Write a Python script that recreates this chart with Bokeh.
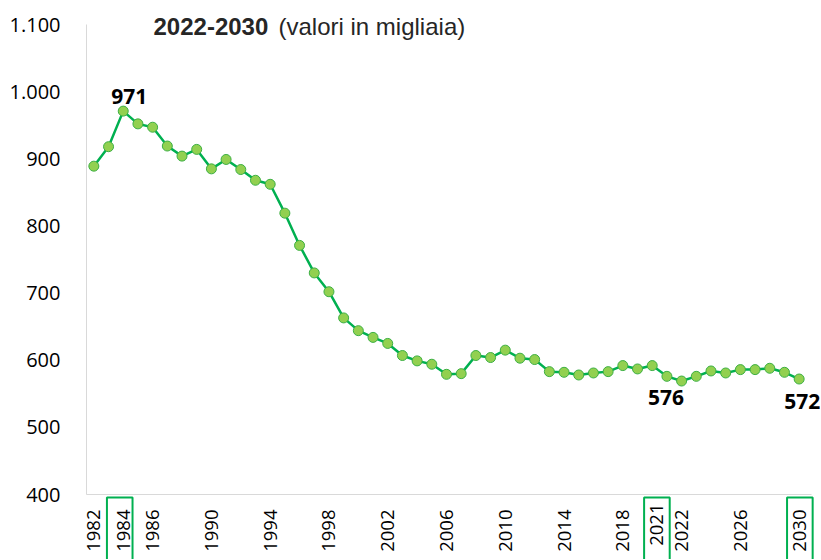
import math
from bokeh.plotting import figure
from bokeh.models import Range1d, FixedTicker, Label, BoxAnnotation
from bokeh.embed import file_html
from bokeh.resources import INLINE

# ---- data ----
years = list(range(1982, 2031))
values = [889, 918, 971, 952, 947, 919, 904, 914, 885, 899,
          884, 868, 862, 819, 771, 730, 702, 663, 644, 634,
          625, 607, 599, 594, 579, 580, 607, 604, 615, 603,
          601, 583, 582, 578, 581, 583, 592, 587, 592, 576,
          569, 576, 584, 581, 586, 586, 588, 582, 572]
x_tick_years = [1982, 1984, 1986, 1990, 1994, 1998, 2002, 2006, 2010,
                2014, 2018, 2021, 2022, 2026, 2030]
highlight_years = [1984, 2021, 2030]
label_years = [1984, 2021, 2030]
y_ticks = [400, 500, 600, 700, 800, 900, 1000, 1100]
y_tick_labels = ["400", "500", "600", "700", "800", "900", "1.000", "1.100"]
title_bold = "2022-2030"
title_rest = "(valori in migliaia)"

# ---- styling / layout constants (pixels) ----
GREEN = "#00b050"
LIGHT = "#92d050"
W, H = 820, 559
PLOT_L, PLOT_R = 86, 806      # plotting area (axis) left/right in figure px
PLOT_T, PLOT_B = 24, 494      # plotting area top/bottom in figure px
XLAB_GAP = 9

X0, X1 = years[0] - 0.5, years[-1] + 0.5
Y0, Y1 = y_ticks[0], y_ticks[-1]
XPX = (PLOT_R - PLOT_L) / (X1 - X0)
YPX = (PLOT_B - PLOT_T) / (Y1 - Y0)

x_range = Range1d(X0 - PLOT_L / XPX, X1 + (W - PLOT_R) / XPX)
y_range = Range1d(Y0 - (H - PLOT_B) / YPX, Y1 + PLOT_T / YPX)

p = figure(width=W, height=H, output_backend="svg", toolbar_location=None,
           x_range=x_range, y_range=y_range,
           min_border=0, min_border_left=0, min_border_right=0,
           min_border_top=0, min_border_bottom=0)
p.outline_line_color = None
p.grid.visible = False
p.background_fill_color = "white"
p.border_fill_color = "white"

p.line(years, values, line_color=GREEN, line_width=2.5)
p.scatter(years, values, size=10, fill_color=LIGHT, line_color="#3cb043", line_width=1)

# x axis (drawn inside the frame at y = Y0)
shifted = {2021: -10}
xa = p.xaxis[0]
xa.fixed_location = Y0
xa.bounds = (X0, X1 + 5 / XPX)
xa.ticker = FixedTicker(ticks=[t for t in x_tick_years if t not in shifted])
xa.major_label_orientation = math.pi / 2
xa.major_label_standoff = XLAB_GAP
xa.major_label_text_font = "Open Sans"
xa.major_label_text_font_size = "18.5px"
xa.major_label_text_color = "#000000"
xa.axis_line_color = "#d9d9d9"
xa.major_tick_line_color = None
xa.minor_tick_line_color = None

for t, dx in shifted.items():
    p.add_layout(Label(x=t, y=Y0, text=str(t), angle=math.pi / 2,
                       text_align="right", text_baseline="middle",
                       x_offset=dx, y_offset=-XLAB_GAP, text_font="Open Sans",
                       text_font_size="18.5px", text_color="#000000"))

# y axis (drawn inside the frame at x = X0)
ya = p.yaxis[0]
ya.fixed_location = X0
ya.bounds = (Y0, Y1)
ya.ticker = FixedTicker(ticks=y_ticks)
ya.major_label_overrides = {t: l for t, l in zip(y_ticks, y_tick_labels)}
ya.major_label_standoff = 20
ya.major_label_text_font = "Open Sans"
ya.major_label_text_font_size = "20px"
ya.major_label_text_color = "#000000"
ya.axis_line_color = "#d9d9d9"
ya.major_tick_line_color = None
ya.minor_tick_line_color = None

# boxes around highlighted tick labels
box_shift = {1984: -3.5, 2021: -10, 2030: 0.7}
half_w = 12.8
for yr in highlight_years:
    c = yr + box_shift[yr] / XPX
    p.add_layout(BoxAnnotation(left=c - half_w / XPX, right=c + half_w / XPX,
                               top=Y0 - 3 / YPX, bottom=Y0 - 120 / YPX,
                               fill_color=None, fill_alpha=0,
                               line_color=GREEN, line_alpha=1, line_width=2))

# value labels
lab_off = {1984: (6, 15), 2021: (-1, -21), 2030: (3, -22)}
for yr in label_years:
    v = values[years.index(yr)]
    dx, dy = lab_off[yr]
    p.add_layout(Label(x=yr, y=v, text=str(v), text_align="center",
                       text_baseline="alphabetic", x_offset=dx, y_offset=dy,
                       text_font="Open Sans", text_font_style="bold",
                       text_font_size="21px", text_color="#000000"))

# title (last visible line of the original title)
p.add_layout(Label(x=X0, y=Y1, text=title_bold, x_offset=67, y_offset=-2,
                   text_baseline="alphabetic", text_font="Liberation Sans",
                   text_font_style="bold", text_font_size="24px", text_color="#262626"))
p.add_layout(Label(x=X0, y=Y1, text=title_rest, x_offset=192, y_offset=-2,
                   text_baseline="alphabetic", text_font="Liberation Sans",
                   text_font_size="24px", text_color="#262626"))

open("out.html", "w").write(file_html(p, INLINE))
